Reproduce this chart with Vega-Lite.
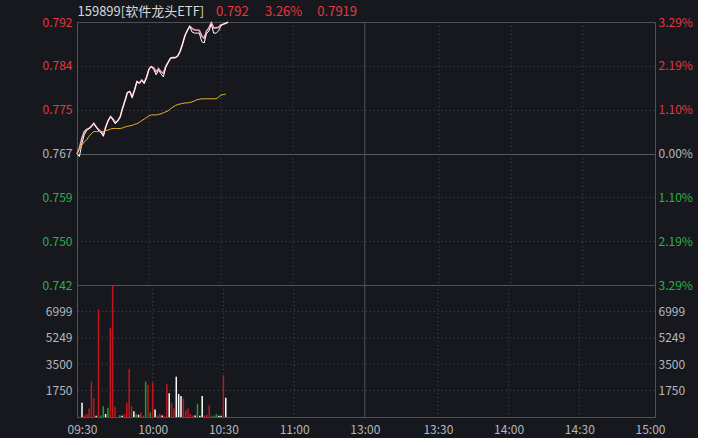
{
  "$schema": "https://vega.github.io/schema/vega-lite/v6.json",
  "background": "#16181d",
  "padding": {"left": 41, "top": 4, "right": 5, "bottom": 2},
  "spacing": 0,
  "bounds": "flush",
  "config": {
    "font": "Noto Sans CJK SC",
    "view": {"stroke": "#4f5258", "strokeWidth": 1},
    "axis": {"labelFont": "Noto Sans CJK SC", "labelFontSize": 12, "domain": false, "ticks": false, "grid": false}
  },
  "datasets": {
    "vgrid": [{"m": 30}, {"m": 60}, {"m": 90}, {"m": 151}, {"m": 181}, {"m": 211}],
    "split": [{"m": 120}],
    "levels": [{"v": 1750}, {"v": 3500}, {"v": 5249}, {"v": 6999}],
    "price": [
      {"m": 0, "pink": 0.7670, "white": 0.7670},
      {"m": 1, "pink": 0.7680, "white": 0.7664},
      {"m": 2, "pink": 0.7699, "white": 0.7688},
      {"m": 3, "pink": 0.7712, "white": 0.7706},
      {"m": 4, "pink": 0.7716, "white": 0.7714},
      {"m": 5, "pink": 0.7718, "white": 0.7718},
      {"m": 6, "pink": 0.7722, "white": 0.7722},
      {"m": 7, "pink": 0.7728, "white": 0.7728},
      {"m": 8, "pink": 0.7721, "white": 0.7721},
      {"m": 9, "pink": 0.7716, "white": 0.7714},
      {"m": 10, "pink": 0.7712, "white": 0.7710},
      {"m": 11, "pink": 0.7706, "white": 0.7703},
      {"m": 12, "pink": 0.7722, "white": 0.7720},
      {"m": 13, "pink": 0.7733, "white": 0.7733},
      {"m": 14, "pink": 0.7741, "white": 0.7741},
      {"m": 15, "pink": 0.7736, "white": 0.7734},
      {"m": 16, "pink": 0.7729, "white": 0.7727},
      {"m": 17, "pink": 0.7733, "white": 0.7733},
      {"m": 18, "pink": 0.7740, "white": 0.7740},
      {"m": 19, "pink": 0.7757, "white": 0.7757},
      {"m": 20, "pink": 0.7771, "white": 0.7771},
      {"m": 21, "pink": 0.7787, "white": 0.7787},
      {"m": 22, "pink": 0.7789, "white": 0.7789},
      {"m": 23, "pink": 0.7779, "white": 0.7777},
      {"m": 24, "pink": 0.7792, "white": 0.7792},
      {"m": 25, "pink": 0.7808, "white": 0.7808},
      {"m": 26, "pink": 0.7805, "white": 0.7805},
      {"m": 27, "pink": 0.7811, "white": 0.7810},
      {"m": 28, "pink": 0.7806, "white": 0.7804},
      {"m": 29, "pink": 0.7816, "white": 0.7816},
      {"m": 30, "pink": 0.7832, "white": 0.7832},
      {"m": 31, "pink": 0.7837, "white": 0.7837},
      {"m": 32, "pink": 0.7834, "white": 0.7831},
      {"m": 33, "pink": 0.7827, "white": 0.7821},
      {"m": 34, "pink": 0.7833, "white": 0.7830},
      {"m": 35, "pink": 0.7827, "white": 0.7823},
      {"m": 36, "pink": 0.7824, "white": 0.7817},
      {"m": 37, "pink": 0.7837, "white": 0.7835},
      {"m": 38, "pink": 0.7845, "white": 0.7845},
      {"m": 39, "pink": 0.7853, "white": 0.7853},
      {"m": 40, "pink": 0.7854, "white": 0.7854},
      {"m": 41, "pink": 0.7854, "white": 0.7854},
      {"m": 42, "pink": 0.7857, "white": 0.7857},
      {"m": 43, "pink": 0.7866, "white": 0.7866},
      {"m": 44, "pink": 0.7880, "white": 0.7880},
      {"m": 45, "pink": 0.7896, "white": 0.7896},
      {"m": 46, "pink": 0.7906, "white": 0.7906},
      {"m": 47, "pink": 0.7914, "white": 0.7914},
      {"m": 48, "pink": 0.7910, "white": 0.7903},
      {"m": 49, "pink": 0.7907, "white": 0.7901},
      {"m": 50, "pink": 0.7907, "white": 0.7901},
      {"m": 51, "pink": 0.7906, "white": 0.7901},
      {"m": 52, "pink": 0.7896, "white": 0.7885},
      {"m": 53, "pink": 0.7891, "white": 0.7882},
      {"m": 54, "pink": 0.7905, "white": 0.7900},
      {"m": 55, "pink": 0.7911, "white": 0.7905},
      {"m": 56, "pink": 0.7921, "white": 0.7918},
      {"m": 57, "pink": 0.7911, "white": 0.7901},
      {"m": 58, "pink": 0.7911, "white": 0.7901},
      {"m": 59, "pink": 0.7912, "white": 0.7905},
      {"m": 60, "pink": 0.7917, "white": 0.7915},
      {"m": 61, "pink": 0.7918, "white": 0.7918},
      {"m": 62, "pink": 0.7920, "white": 0.7920},
      {"m": 63, "pink": 0.7922, "white": 0.7922}
    ],
    "avg": [
      {"m": 0, "avg": 0.7670}, {"m": 1, "avg": 0.7678}, {"m": 2, "avg": 0.7686}, {"m": 3, "avg": 0.7692},
      {"m": 4, "avg": 0.7696}, {"m": 5, "avg": 0.7703}, {"m": 6, "avg": 0.7708}, {"m": 7, "avg": 0.7712},
      {"m": 8, "avg": 0.7712}, {"m": 9, "avg": 0.7712}, {"m": 10, "avg": 0.7712}, {"m": 11, "avg": 0.7712},
      {"m": 12, "avg": 0.7714}, {"m": 13, "avg": 0.7715}, {"m": 14, "avg": 0.7717}, {"m": 15, "avg": 0.7718},
      {"m": 16, "avg": 0.7718}, {"m": 17, "avg": 0.7718}, {"m": 18, "avg": 0.7718}, {"m": 19, "avg": 0.7719},
      {"m": 20, "avg": 0.7721}, {"m": 21, "avg": 0.7722}, {"m": 22, "avg": 0.7723}, {"m": 23, "avg": 0.7724},
      {"m": 24, "avg": 0.7726}, {"m": 25, "avg": 0.7727}, {"m": 26, "avg": 0.7730}, {"m": 27, "avg": 0.7733},
      {"m": 28, "avg": 0.7736}, {"m": 29, "avg": 0.7739}, {"m": 30, "avg": 0.7742}, {"m": 31, "avg": 0.7744},
      {"m": 32, "avg": 0.7744}, {"m": 33, "avg": 0.7744}, {"m": 34, "avg": 0.7745}, {"m": 35, "avg": 0.7746},
      {"m": 36, "avg": 0.7748}, {"m": 37, "avg": 0.7750}, {"m": 38, "avg": 0.7752}, {"m": 39, "avg": 0.7756},
      {"m": 40, "avg": 0.7759}, {"m": 41, "avg": 0.7762}, {"m": 42, "avg": 0.7764}, {"m": 43, "avg": 0.7765},
      {"m": 44, "avg": 0.7766}, {"m": 45, "avg": 0.7767}, {"m": 46, "avg": 0.7767}, {"m": 47, "avg": 0.7768},
      {"m": 48, "avg": 0.7769}, {"m": 49, "avg": 0.7771}, {"m": 50, "avg": 0.7773}, {"m": 51, "avg": 0.7774},
      {"m": 52, "avg": 0.7775}, {"m": 53, "avg": 0.7775}, {"m": 54, "avg": 0.7775}, {"m": 55, "avg": 0.7775},
      {"m": 56, "avg": 0.7775}, {"m": 57, "avg": 0.7775}, {"m": 58, "avg": 0.7775}, {"m": 59, "avg": 0.7778},
      {"m": 60, "avg": 0.7782}, {"m": 61, "avg": 0.7783}, {"m": 62, "avg": 0.7784}
    ],
    "vol": [
      {"m": 0, "v": 942, "d": "flat"}, {"m": 1, "v": 100, "d": "up"}, {"m": 2, "v": 200, "d": "up"},
      {"m": 3, "v": 565, "d": "up"}, {"m": 4, "v": 2355, "d": "up"}, {"m": 5, "v": 1238, "d": "up"},
      {"m": 6, "v": 80, "d": "flat"}, {"m": 7, "v": 7134, "d": "up"}, {"m": 8, "v": 100, "d": "down"},
      {"m": 9, "v": 720, "d": "down"}, {"m": 10, "v": 200, "d": "flat"}, {"m": 11, "v": 606, "d": "down"},
      {"m": 12, "v": 5902, "d": "up"}, {"m": 13, "v": 8700, "d": "up"}, {"m": 14, "v": 673, "d": "up"},
      {"m": 16, "v": 120, "d": "down"}, {"m": 17, "v": 80, "d": "flat"}, {"m": 18, "v": 200, "d": "up"},
      {"m": 19, "v": 942, "d": "up"}, {"m": 20, "v": 3190, "d": "up"}, {"m": 21, "v": 720, "d": "up"},
      {"m": 22, "v": 383, "d": "flat"}, {"m": 23, "v": 200, "d": "down"}, {"m": 24, "v": 150, "d": "flat"},
      {"m": 25, "v": 300, "d": "up"}, {"m": 26, "v": 80, "d": "up"}, {"m": 27, "v": 2355, "d": "down"},
      {"m": 28, "v": 2133, "d": "up"}, {"m": 29, "v": 300, "d": "down"}, {"m": 30, "v": 2288, "d": "up"},
      {"m": 31, "v": 500, "d": "flat"}, {"m": 32, "v": 120, "d": "up"}, {"m": 33, "v": 200, "d": "up"},
      {"m": 34, "v": 100, "d": "flat"}, {"m": 35, "v": 80, "d": "up"}, {"m": 36, "v": 2200, "d": "up"},
      {"m": 37, "v": 1570, "d": "flat"}, {"m": 38, "v": 942, "d": "up"}, {"m": 39, "v": 565, "d": "up"},
      {"m": 40, "v": 2670, "d": "flat"}, {"m": 41, "v": 1528, "d": "flat"}, {"m": 42, "v": 1393, "d": "flat"},
      {"m": 43, "v": 1238, "d": "up"}, {"m": 44, "v": 420, "d": "up"}, {"m": 45, "v": 565, "d": "up"},
      {"m": 46, "v": 200, "d": "up"}, {"m": 47, "v": 100, "d": "up"}, {"m": 48, "v": 100, "d": "flat"},
      {"m": 49, "v": 880, "d": "down"}, {"m": 50, "v": 80, "d": "flat"}, {"m": 51, "v": 1393, "d": "flat"},
      {"m": 52, "v": 100, "d": "up"}, {"m": 53, "v": 150, "d": "up"}, {"m": 54, "v": 780, "d": "up"},
      {"m": 55, "v": 100, "d": "up"}, {"m": 56, "v": 80, "d": "down"}, {"m": 57, "v": 200, "d": "down"},
      {"m": 58, "v": 80, "d": "flat"}, {"m": 59, "v": 80, "d": "flat"}, {"m": 60, "v": 2760, "d": "up"},
      {"m": 61, "v": 1280, "d": "flat"}
    ]
  },
  "vconcat": [
    {
      "width": 578,
      "height": 263,
      "resolve": {"axis": {"x": "independent", "y": "independent"}},
      "layer": [
        {
          "data": {"name": "vgrid"},
          "mark": {"type": "rule", "color": "#4a4d55", "strokeDash": [1, 3], "strokeWidth": 1},
          "encoding": {
            "x": {"field": "m", "type": "quantitative", "scale": {"domain": [0, 241], "nice": false, "zero": false}, "axis": null}
          }
        },
        {
          "data": {"name": "split"},
          "mark": {"type": "rule", "color": "#52555c", "strokeWidth": 1},
          "encoding": {
            "x": {"field": "m", "type": "quantitative", "scale": {"domain": [0, 241], "nice": false, "zero": false}, "axis": null}
          }
        },
        {
          "data": {"name": "price"},
          "mark": {"type": "line", "color": "#f3a3b6", "strokeWidth": 1.6},
          "encoding": {
            "x": {
              "field": "m", "type": "quantitative", "title": null,
              "scale": {"domain": [0, 241], "nice": false, "zero": false},
              "axis": {
                "orient": "top",
                "values": [0, 57.8, 78.2, 100],
                "labelExpr": "datum.value == 0 ? '159899[软件龙头ETF]' : datum.value < 70 ? '0.792' : datum.value < 90 ? '3.26%' : '0.7919'",
                "labelAlign": "left",
                "labelFlush": false,
                "labelOverlap": false,
                "labelPadding": 4,
                "labelFontSize": 13,
                "labelColor": {"expr": "datum.value == 0 ? '#d8d8d8' : '#e8363f'"}
              }
            },
            "y": {
              "field": "pink", "type": "quantitative", "title": null,
              "scale": {"domain": [0.74177, 0.79223], "nice": false, "zero": false},
              "axis": {
                "orient": "left",
                "values": [0.74177, 0.75018, 0.75859, 0.767, 0.77541, 0.78382, 0.79223],
                "format": ".3f",
                "labelPadding": 5,
                "labelOverlap": false,
                "labelColor": {"expr": "datum.value > 0.768 ? '#e8363f' : datum.value < 0.766 ? '#2db04a' : '#b5b8bd'"},
                "grid": true,
                "gridColor": {"condition": {"test": "datum.value == 0.767", "value": "#55585f"}, "value": "#474a52"},
                "gridDash": {"condition": {"test": "datum.value == 0.767", "value": []}, "value": [1, 3]}
              }
            }
          }
        },
        {
          "data": {"name": "price"},
          "mark": {"type": "line", "color": "#ffffff", "strokeWidth": 1},
          "encoding": {
            "x": {"field": "m", "type": "quantitative", "scale": {"domain": [0, 241], "nice": false, "zero": false}, "axis": null},
            "y": {"field": "white", "type": "quantitative", "scale": {"domain": [0.74177, 0.79223], "nice": false, "zero": false}, "axis": null}
          }
        },
        {
          "data": {"name": "avg"},
          "mark": {"type": "line", "color": "#e9b234", "strokeWidth": 1},
          "encoding": {
            "x": {"field": "m", "type": "quantitative", "scale": {"domain": [0, 241], "nice": false, "zero": false}, "axis": null},
            "y": {
              "field": "avg", "type": "quantitative", "title": null,
              "scale": {"domain": [0.74177, 0.79223], "nice": false, "zero": false},
              "axis": {
                "orient": "right",
                "values": [0.74177, 0.75018, 0.75859, 0.767, 0.77541, 0.78382, 0.79223],
                "labelExpr": "format(abs(datum.value / 0.767 - 1) * 100, '.2f') + '%'",
                "labelPadding": 3,
                "labelOverlap": false,
                "labelColor": {"expr": "datum.value > 0.768 ? '#e8363f' : datum.value < 0.766 ? '#2db04a' : '#b5b8bd'"},
                "grid": false
              }
            }
          }
        }
      ]
    },
    {
      "width": 578,
      "height": 132,
      "resolve": {"axis": {"x": "independent", "y": "independent"}},
      "layer": [
        {
          "data": {"name": "vgrid"},
          "mark": {"type": "rule", "color": "#4a4d55", "strokeDash": [1, 3], "strokeWidth": 1},
          "encoding": {
            "x": {"field": "m", "type": "quantitative", "scale": {"domain": [0, 241], "nice": false, "zero": false}, "axis": null}
          }
        },
        {
          "data": {"name": "split"},
          "mark": {"type": "rule", "color": "#52555c", "strokeWidth": 1},
          "encoding": {
            "x": {"field": "m", "type": "quantitative", "scale": {"domain": [0, 241], "nice": false, "zero": false}, "axis": null}
          }
        },
        {
          "data": {"name": "levels"},
          "mark": {"type": "rule", "color": "#474a52", "strokeDash": [1, 3], "strokeWidth": 1},
          "encoding": {
            "y": {
              "field": "v", "type": "quantitative", "title": null,
              "scale": {"domain": [0, 8749], "nice": false},
              "axis": {"orient": "left", "values": [1750, 3500, 5249, 6999], "format": "d", "labelPadding": 5, "labelColor": "#b5b8bd", "labelOverlap": false, "grid": false}
            }
          }
        },
        {
          "data": {"name": "vol"},
          "mark": {"type": "bar", "width": 1.5},
          "encoding": {
            "x": {
              "field": "m", "type": "quantitative", "title": null,
              "scale": {"domain": [0, 241], "nice": false, "zero": false},
              "axis": {
                "orient": "bottom",
                "values": [0, 30, 60, 90, 120, 151, 181, 211, 241],
                "labelExpr": "datum.value == 0 ? '09:30' : datum.value == 30 ? '10:00' : datum.value == 60 ? '10:30' : datum.value == 90 ? '11:00' : datum.value == 120 ? '13:00' : datum.value == 151 ? '13:30' : datum.value == 181 ? '14:00' : datum.value == 211 ? '14:30' : '15:00'",
                "labelFlush": false,
                "labelOverlap": false,
                "labelPadding": 7,
                "labelColor": "#b5b8bd"
              }
            },
            "y": {
              "field": "v", "type": "quantitative", "title": null,
              "scale": {"domain": [0, 8749], "nice": false},
              "axis": {"orient": "right", "values": [1750, 3500, 5249, 6999], "format": "d", "labelPadding": 3, "labelColor": "#b5b8bd", "labelOverlap": false, "grid": false}
            },
            "color": {"field": "d", "type": "nominal", "scale": {"domain": ["up", "down", "flat"], "range": ["#c3161c", "#1f9d2f", "#ffffff"]}, "legend": null}
          }
        }
      ]
    }
  ]
}
